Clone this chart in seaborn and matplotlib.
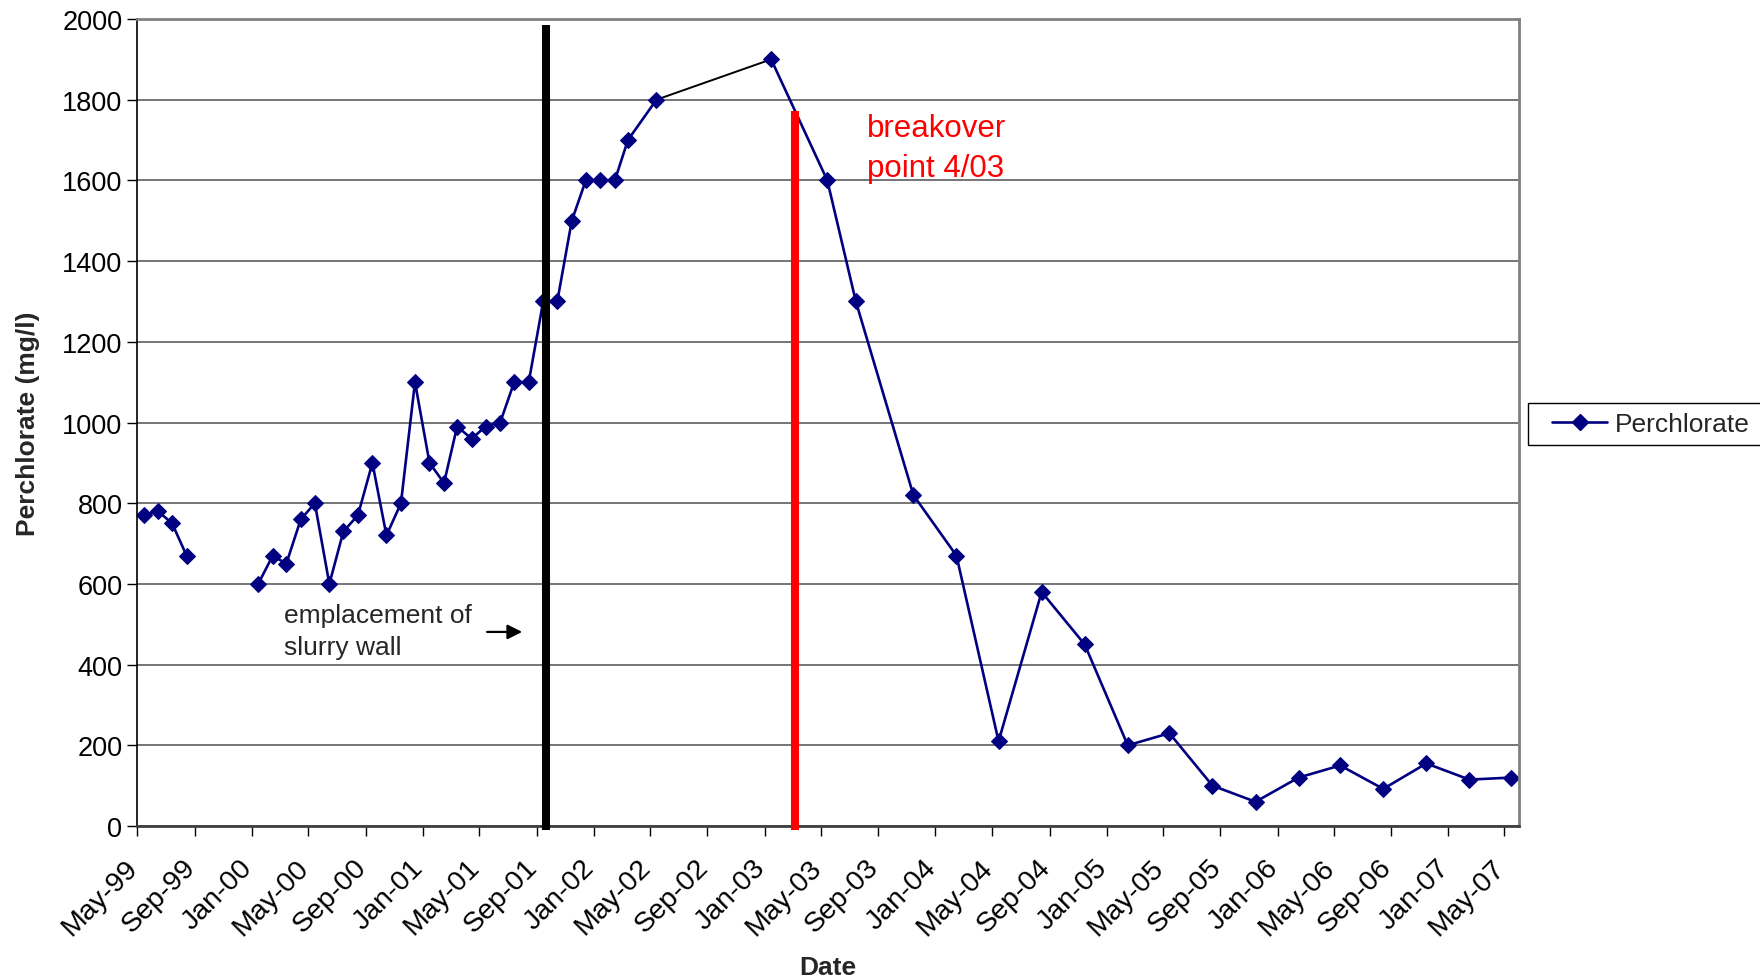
import pandas as pd
import numpy as np
import seaborn as sns
import matplotlib.pyplot as plt
import matplotlib.dates as mdates
import matplotlib.transforms as mtransforms
from matplotlib.lines import Line2D
from matplotlib.patches import Rectangle

# data (sample dates are mid-month)
dates_early = ["1999-05-15", "1999-06-15", "1999-07-15", "1999-08-15"]
values_early = [770, 780, 750, 670]

dates_mid = ["2000-01-15", "2000-02-15", "2000-03-15", "2000-04-15", "2000-05-15",
             "2000-06-15", "2000-07-15", "2000-08-15", "2000-09-15", "2000-10-15",
             "2000-11-15", "2000-12-15", "2001-01-15", "2001-02-15", "2001-03-15",
             "2001-04-15", "2001-05-15", "2001-06-15", "2001-07-15", "2001-08-15",
             "2001-09-15", "2001-10-15", "2001-11-15", "2001-12-15", "2002-01-15",
             "2002-02-15", "2002-03-15", "2002-05-15"]
values_mid = [600, 670, 650, 760, 800, 600, 730, 770, 900, 720,
              800, 1100, 900, 850, 990, 960, 990, 1000, 1100, 1100,
              1300, 1300, 1500, 1600, 1600, 1600, 1700, 1800]

dates_late = ["2003-01-15", "2003-05-15", "2003-07-15", "2003-11-15", "2004-02-15",
              "2004-05-15", "2004-08-15", "2004-11-15", "2005-02-15", "2005-05-15",
              "2005-08-15", "2005-11-15", "2006-02-15", "2006-05-15", "2006-08-15",
              "2006-11-15", "2007-02-15", "2007-05-15"]
values_late = [1900, 1600, 1300, 820, 670, 210, 580, 450, 200, 230,
               100, 60, 120, 150, 92, 155, 115, 120]

# reference lines
slurry_date = "2001-09-20"
slurry_range = [-11, 1985]
breakover_date = "2003-03-08"
breakover_range = [-11, 1773]

# annotation anchors
arrow_start = ("2001-05-18", 481)
arrow_end = ("2001-08-01", 481)
slurry_text_pos = ("2000-03-10", 484)
breakover_text_pos = ("2003-08-07", 1680)

df = pd.concat([
    pd.DataFrame({"date": dates_early, "value": values_early, "seg": 0}),
    pd.DataFrame({"date": dates_mid, "value": values_mid, "seg": 1}),
    pd.DataFrame({"date": dates_late, "value": values_late, "seg": 2}),
])
df["date"] = pd.to_datetime(df["date"])

sns.set_style("white")
plt.rcParams["font.family"] = ["Liberation Sans", "DejaVu Sans"]

navy = "#000080"
fig = plt.figure(figsize=(17.6, 9.79), dpi=100)
ax = fig.add_axes([137 / 1760, 1 - 827 / 979, (1519 - 137) / 1760, (827 - 20) / 979])

# gridlines
ax.set_ylim(0, 2000)
ax.set_yticks(np.arange(0, 2001, 200))
ax.yaxis.grid(True, color="#505050", linewidth=1.1)
ax.set_axisbelow(True)

# black connector between May-02 and Jan-03
link = pd.DataFrame({"date": pd.to_datetime([dates_mid[-1], dates_late[0]]),
                     "value": [values_mid[-1], values_late[0]]})
sns.lineplot(data=link, x="date", y="value", color="black", linewidth=1.4, ax=ax)

sns.lineplot(data=df, x="date", y="value", units="seg", estimator=None,
             color=navy, linewidth=1.9, marker="D", markersize=8,
             markeredgecolor=navy, markerfacecolor=navy, ax=ax, legend=False)

# vertical event lines
sd = pd.to_datetime(slurry_date)
bd = pd.to_datetime(breakover_date)
ax.plot([sd, sd], slurry_range, color="black", linewidth=5.8, clip_on=False,
        solid_capstyle="butt", zorder=5)
ax.plot([bd, bd], breakover_range, color="#ff0000", linewidth=5.8, clip_on=False,
        solid_capstyle="butt", zorder=5)

ax.text(pd.to_datetime(slurry_text_pos[0]), slurry_text_pos[1],
        "emplacement of\nslurry wall", fontsize=19, va="center", ha="left",
        linespacing=1.42)
ax.annotate("", xy=(pd.to_datetime(arrow_end[0]), arrow_end[1]),
            xytext=(pd.to_datetime(arrow_start[0]), arrow_start[1]),
            arrowprops=dict(arrowstyle="-|>", color="black", lw=1.6,
                            mutation_scale=22, shrinkA=0, shrinkB=0))
ax.text(pd.to_datetime(breakover_text_pos[0]), breakover_text_pos[1],
        "breakover\npoint 4/03", fontsize=22.5, color="#ff0000",
        va="center", ha="left", linespacing=1.42)

# x axis: ticks every 4 months
ax.set_xlim(pd.to_datetime("1999-05-01"), pd.to_datetime("2007-06-01"))
ax.xaxis.set_major_locator(mdates.MonthLocator(bymonth=[1, 5, 9]))
ax.xaxis.set_major_formatter(mdates.DateFormatter("%b-%y"))

ax.tick_params(axis="both", direction="out", length=7, width=1, colors="black",
               bottom=True, left=True)
ax.tick_params(axis="y", labelsize=19.5)
ax.tick_params(axis="x", labelsize=20.5, pad=13)
# rotated labels end right under their tick, like Excel draws them
shift = mtransforms.ScaledTranslation(-9 / 72, 0, fig.dpi_scale_trans)
for lbl in ax.get_xticklabels():
    lbl.set_rotation(45)
    lbl.set_ha("right")
    lbl.set_va("top")
    lbl.set_rotation_mode("anchor")
    lbl.set_transform(lbl.get_transform() + shift)

for side in ["top", "right"]:
    ax.spines[side].set_color("#808080")
    ax.spines[side].set_linewidth(2)
ax.spines["left"].set_color("black")
ax.spines["left"].set_linewidth(1.2)
ax.spines["bottom"].set_color("#404040")
ax.spines["bottom"].set_linewidth(2)

ax.set_xlabel("Date", fontsize=19, fontweight="bold", labelpad=11)
ax.set_ylabel("Perchlorate (mg/l)", fontsize=19, fontweight="bold", labelpad=16)

# legend box, cut by the right edge like the original
fig.patches.append(Rectangle((1528 / 1760, 1 - 446 / 979), 0.2, 42 / 979,
                             transform=fig.transFigure, facecolor="white",
                             edgecolor="black", linewidth=1))
handle = Line2D([], [], color=navy, linewidth=1.9, marker="D", markersize=8)
fig.legend([handle], ["Perchlorate"], loc="center left",
           bbox_to_anchor=(1552 / 1760, 1 - 425 / 979), frameon=False,
           borderpad=0, borderaxespad=0, handlelength=2.1, handletextpad=0.3,
           fontsize=19)

fig.savefig("out.png", dpi=100)
